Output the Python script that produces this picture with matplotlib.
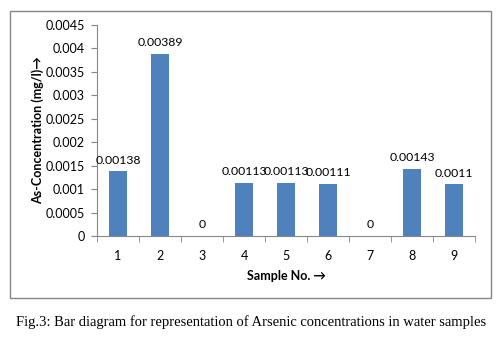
import matplotlib
matplotlib.use('Agg')
from matplotlib import pyplot as plt
from matplotlib.patches import Rectangle
from matplotlib.ticker import MultipleLocator, FuncFormatter

samples = ['1', '2', '3', '4', '5', '6', '7', '8', '9']
arsenic = [0.00138, 0.00389, 0, 0.00113, 0.00113, 0.00111, 0, 0.00143, 0.0011]
bar_labels = ['0.00138', '0.00389', '0', '0.00113', '0.00113', '0.00111', '0', '0.00143', '0.0011']

plt.rcParams['font.family'] = ['Lato', 'DejaVu Sans']

fig = plt.figure(figsize=(5.03, 3.45), dpi=100)
fig.patches.append(Rectangle((10/503, 1-298/345), 481/503, 287/345, transform=fig.transFigure,
                             fill=False, edgecolor='#868686', linewidth=1))

ax = fig.add_axes([97/503, 1-236/345, 378/503, 211/345])
x = list(range(len(samples)))
ax.bar(x, arsenic, width=0.42, color='#4F81BD')
for xi, v, s in zip(x, arsenic, bar_labels):
    ax.text(xi, v + 0.00012, s, ha='center', va='bottom', fontsize=8.8)

ax.set_xlim(-0.5, len(samples) - 0.5)
ax.set_ylim(0, 0.0045)
ax.yaxis.set_major_locator(MultipleLocator(0.0005))
ax.yaxis.set_major_formatter(FuncFormatter(lambda v, p: ('%.4f' % v).rstrip('0').rstrip('.')))
ax.set_xticks(x)
ax.set_xticklabels(samples)
ax.set_xticks([i - 0.5 for i in range(len(samples) + 1)], minor=True)
ax.tick_params(axis='x', which='major', length=0, pad=10, labelsize=9)
ax.tick_params(axis='x', which='minor', length=4, color='#868686')
ax.tick_params(axis='y', length=4, color='#868686', labelsize=9, pad=5)

for sp in ['top', 'right']:
    ax.spines[sp].set_visible(False)
for sp in ['left', 'bottom']:
    ax.spines[sp].set_color('#868686')

ax.set_xlabel('Sample No. →', fontsize=9, fontweight='bold', labelpad=6)
ax.set_ylabel('As-Concentration (mg/l)→', fontsize=9, fontweight='bold', labelpad=1)

fig.text(0.5, 1-322/345, 'Fig.3: Bar diagram for representation of Arsenic concentrations in water samples',
         ha='center', va='center', fontsize=10.5, family='Liberation Serif')

fig.savefig('out.png', dpi=100)
